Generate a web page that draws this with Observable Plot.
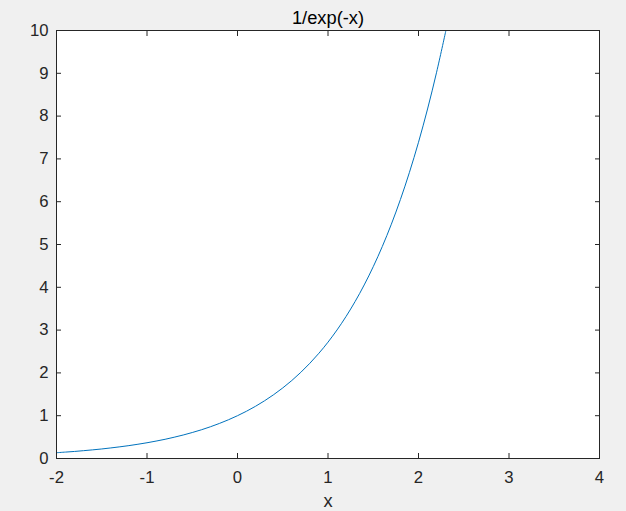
<!DOCTYPE html>
<html>
<head>
<meta charset="utf-8">
<script src="https://cdn.jsdelivr.net/npm/d3@7"></script>
<script src="https://cdn.jsdelivr.net/npm/@observablehq/plot@0.6"></script>
<style>
  html, body { margin: 0; padding: 0; background: #f0f0f0; }
</style>
</head>
<body>
<div id="chart"></div>
<script>
const xValues = [-2.0, -1.9, -1.8, -1.7, -1.6, -1.5, -1.4, -1.3, -1.2, -1.1, -1.0, -0.9, -0.8, -0.7, -0.6, -0.5, -0.4, -0.3, -0.2, -0.1, 0.0, 0.1, 0.2, 0.3, 0.4, 0.5, 0.6, 0.7, 0.8, 0.9, 1.0, 1.1, 1.2, 1.3, 1.4, 1.5, 1.6, 1.7, 1.8, 1.9, 2.0, 2.1, 2.2, 2.3, 2.3026];
const yValues = [0.135, 0.150, 0.165, 0.183, 0.202, 0.223, 0.247, 0.273, 0.301, 0.333, 0.368, 0.407, 0.449, 0.497, 0.549, 0.607, 0.670, 0.741, 0.819, 0.905, 1.000, 1.105, 1.221, 1.350, 1.492, 1.649, 1.822, 2.014, 2.226, 2.460, 2.718, 3.004, 3.320, 3.669, 4.055, 4.482, 4.953, 5.474, 6.050, 6.686, 7.389, 8.166, 9.025, 9.974, 10.0];
const xTicks = [-2, -1, 0, 1, 2, 3, 4];
const yTicks = [0, 1, 2, 3, 4, 5, 6, 7, 8, 9, 10];
const titleText = "1/exp(-x)";
const xLabel = "x";

const data = xValues.map((x, i) => ({x, y: yValues[i]}));
const axisColor = "#262626";
const blank = () => "";
const plain = (d) => String(d);

const chart = Plot.plot({
  width: 626,
  height: 511,
  marginLeft: 56,
  marginRight: 27,
  marginTop: 30,
  marginBottom: 53,
  style: {background: "#f0f0f0", fontFamily: "'Liberation Sans', Arial, Helvetica, sans-serif", fontSize: "16.7px", color: axisColor},
  x: {domain: [-2, 4]},
  y: {domain: [0, 10]},
  marks: [
    Plot.frame({fill: "white", stroke: null}),
    Plot.line(data, {x: "x", y: "y", stroke: "#0072BD", strokeWidth: 1, curve: "catmull-rom"}),
    Plot.frame({stroke: axisColor, strokeWidth: 1}),
    Plot.axisX(xTicks, {anchor: "bottom", tickSize: -5, tickFormat: blank, label: null, stroke: axisColor}),
    Plot.axisX(xTicks, {anchor: "top", tickSize: -5, tickFormat: blank, label: null, stroke: axisColor}),
    Plot.axisY(yTicks, {anchor: "left", tickSize: -5, tickFormat: blank, label: null, stroke: axisColor}),
    Plot.axisY(yTicks, {anchor: "right", tickSize: -5, tickFormat: blank, label: null, stroke: axisColor}),
    Plot.axisX(xTicks, {anchor: "bottom", tickSize: 0, tickPadding: 13, tickFormat: plain, label: null, fill: axisColor, fontSize: 16.7}),
    Plot.axisY(yTicks, {anchor: "left", tickSize: 0, tickPadding: 8, tickFormat: plain, label: null, fill: axisColor, fontSize: 16.7}),
    Plot.text([titleText], {frameAnchor: "top", lineAnchor: "top", dy: -20, fill: "#000", fontSize: 18.3}),
    Plot.text([xLabel], {frameAnchor: "bottom", lineAnchor: "bottom", dy: 48, fill: axisColor, fontSize: 18.3})
  ]
});
document.getElementById("chart").appendChild(chart);
</script>
</body>
</html>
